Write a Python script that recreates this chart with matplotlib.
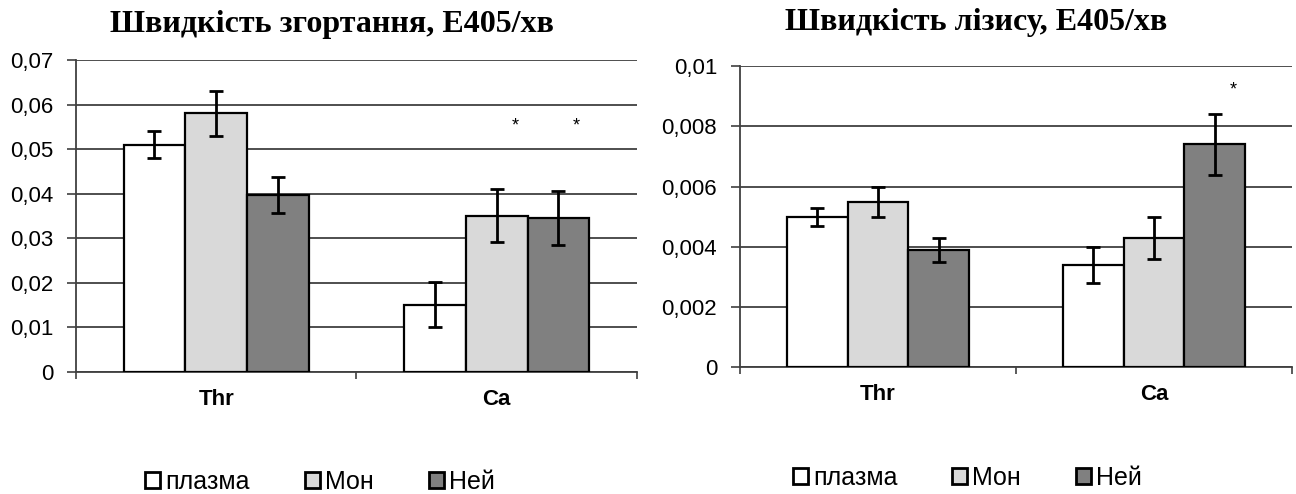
import numpy as np
import matplotlib.pyplot as plt
from matplotlib.patches import Patch

plt.rcParams["font.family"] = ["Liberation Sans", "DejaVu Sans"]

# data
groups = ["Thr", "Ca"]
series = ["плазма", "Мон", "Ней"]
colors = ["#ffffff", "#d9d9d9", "#808080"]

coag = [[0.051, 0.0151], [0.058, 0.0351], [0.0397, 0.0346]]
coag_err = [[0.003, 0.005], [0.005, 0.006], [0.004, 0.006]]
coag_star = [[None, None], [None, 0.0552], [None, 0.0552]]

lysis = [[0.0050, 0.0034], [0.0055, 0.0043], [0.0039, 0.0074]]
lysis_err = [[0.0003, 0.0006], [0.0005, 0.0007], [0.0004, 0.0010]]
lysis_star = [[None, None], [None, None], [None, 0.0092]]

titles = ["Швидкість згортання, Е405/хв", "Швидкість лізису, Е405/хв"]
ylims = [0.07, 0.01]
ysteps = [0.01, 0.002]

fig = plt.figure(figsize=(12.96, 4.94), dpi=100)
ax1 = fig.add_axes([0.0586, 0.247, 0.4329, 0.6316])
ax2 = fig.add_axes([0.571, 0.257, 0.426, 0.609])

x = np.arange(len(groups))
w = 0.22
grid_col = "#404040"

title_xy = [(0.2565, 0.951), (0.7535, 0.955)]
leg_xy = [(0.435, -0.353), (0.412, -0.369)]

for k, (ax, vals, errs, stars, title, ymax, step) in enumerate(zip(
        [ax1, ax2], [coag, lysis], [coag_err, lysis_err], [coag_star, lysis_star],
        titles, ylims, ysteps)):
    for i in range(len(series)):
        pos = x + (i - 1) * w
        ax.bar(pos, vals[i], w, color=colors[i], edgecolor="black", linewidth=1.6, zorder=3)
        ax.errorbar(pos, vals[i], yerr=errs[i], fmt="none", ecolor="black",
                    elinewidth=2, capsize=5, capthick=2, zorder=4)
        for p, s in zip(pos, stars[i]):
            if s is not None:
                # the star sits a bit right of the bar centre
                ax.annotate("*", (p, s), xytext=(13, 0), textcoords="offset points",
                            ha="center", va="center", fontsize=13, zorder=5)
    ax.set_xlim(-0.5, len(groups) - 0.5)
    ax.set_ylim(0, ymax)
    ticks = np.arange(0, ymax + step / 2, step)
    ax.set_yticks(ticks)
    ax.set_yticklabels(["0" if t == 0 else ("%g" % round(t, 4)).replace(".", ",") for t in ticks],
                       fontsize=16)
    ax.set_xticks(x)
    ax.set_xticklabels(groups, fontsize=16, fontweight="bold")
    ax.set_xticks([-0.5, 0.5, 1.5], minor=True)
    ax.tick_params(axis="x", which="major", length=0, pad=12)
    ax.tick_params(axis="x", which="minor", length=5, width=1.2, color=grid_col, direction="out")
    ax.tick_params(axis="y", length=6.5, width=1.2, color=grid_col, pad=10)
    ax.yaxis.grid(True, color=grid_col, linewidth=1.3, zorder=0)
    ax.set_axisbelow(True)
    for sp in ["top", "right"]:
        ax.spines[sp].set_visible(False)
    for sp in ["left", "bottom"]:
        ax.spines[sp].set_color(grid_col)
        ax.spines[sp].set_linewidth(1.3)
    fig.text(title_xy[k][0], title_xy[k][1], title, ha="center", va="center",
             fontsize=23, fontweight="bold", family="Liberation Serif")

    handles = [Patch(facecolor=c, edgecolor="black", linewidth=2) for c in colors]
    ax.legend(handles, series, loc="center", bbox_to_anchor=leg_xy[k], ncol=3,
              frameon=False, fontsize=18, handlelength=0.6, handleheight=0.6,
              handletextpad=0.2, columnspacing=2.2)

fig.savefig("out.png", dpi=100)
